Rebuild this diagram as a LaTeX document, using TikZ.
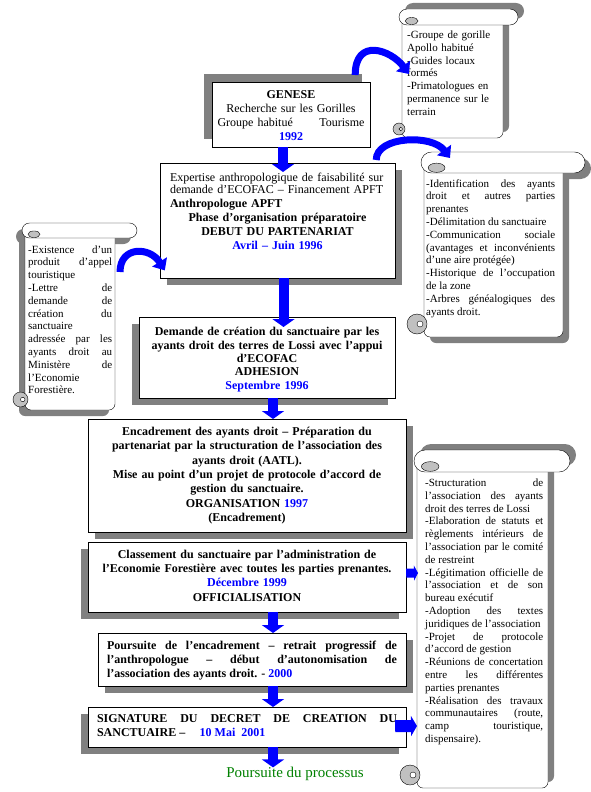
\documentclass[tikz,border=0pt]{standalone}
\usepackage{fontspec}
\setmainfont{Liberation Serif}
\usetikzlibrary{arrows.meta,shadows}
\definecolor{ombregris}{RGB}{128,128,128}
\definecolor{volute}{RGB}{192,192,192}
\definecolor{bleu}{RGB}{0,0,255}
\definecolor{vert}{RGB}{0,128,0}

% parchemin : gauche, haut, droite, bout du rouleau, bas, ombre x, ombre y, volute, hauteur du rouleau
\newcommand{\parchemin}[9]{%
  \begin{scope}[shift={(#6,#7)},fill=ombregris]
    \fill[rounded corners=#9*0.5pt] (#1-3,#2) rectangle (#4,#2+#9);
    \fill[rounded corners=6pt] (#1,#2+#9*0.5) rectangle (#3,#5);
  \end{scope}
  \filldraw[fill=white,rounded corners=6pt] (#1,#2+#9*0.5) rectangle (#3,#5);
  \filldraw[fill=white,rounded corners=#9*0.5pt] (#1-3,#2) rectangle (#4,#2+#9);
  \filldraw[fill=volute] (#1+0.6*#9,#2+0.75*#9) ellipse ({0.4*#9} and {0.22*#9});
  \filldraw[fill=volute] (#1-#8+3,#5-#8-3) circle (#8);
  \filldraw[fill=white] (#1-0.7*#8+3,#5-#8-3) circle ({0.3*#8});
}

\begin{document}
\begin{tikzpicture}[x=1pt,y=-1pt,
  etape/.style={rectangle,draw=black,fill=white,anchor=north,inner ysep=0pt,font=\fontsize{12}{14}\selectfont},
  ombreBD/.style={drop shadow={shadow xshift=7pt,shadow yshift=-7pt,fill=ombregris,opacity=1}},
  ombreBG/.style={drop shadow={shadow xshift=-7pt,shadow yshift=-7pt,fill=ombregris,opacity=1}},
  ombreHG/.style={drop shadow={shadow xshift=-8pt,shadow yshift=8pt,fill=ombregris,opacity=1}},
  liste/.style={inner sep=0pt,anchor=base west,align=justify,font=\fontsize{11}{12.8}\selectfont},
  fleche/.style={draw=bleu,line width=10pt,-{Triangle[width=22pt,length=8pt]}},
  courbe/.style={draw=bleu,line width=7pt,-{Triangle[width=17pt,length=10pt]}},
  lateral/.style={draw=bleu,line width=10pt,-{Triangle[width=20pt,length=6pt]}}]
  \useasboundingbox (0,0) rectangle (591,792);

  % parchemins
  \parchemin{402}{9}{503}{518}{138}{6}{-6}{6}{16}
  \parchemin{424}{152}{563}{585}{337}{6}{6}{10}{21}
  \parchemin{25}{223}{115}{137}{410}{-6}{6}{7.5}{15}
  \parchemin{417}{450}{548}{570}{788}{6}{-6}{10}{22}

  \node[liste,align=left,text width=92pt] (gorilles) at (407,38.5) {-Groupe de gorille\\ Apollo habitué\\ -Guides locaux\\ formés\\ -Primatologues en\\ permanence sur le\\ terrain};
  \node[liste,text width=129pt] (identification) at (426,187) {-Identification des ayants\linebreak droit et autres parties\linebreak prenantes\\ -Délimitation du sanctuaire\\ -Communication sociale\linebreak (avantages et inconvénients\linebreak d’une aire protégée)\\ -Historique de l’occupation\linebreak de la zone\\ -Arbres généalogiques des\linebreak ayants droit.};
  \node[liste,text width=84pt] (existence) at (28,253) {-Existence d’un\linebreak produit d’appel\linebreak touristique\\ -Lettre de\linebreak demande de\linebreak création du\linebreak sanctuaire\\ adressée par les\linebreak ayants droit au\linebreak Ministère de\linebreak l’Economie\\ Forestière.};
  \node[liste,text width=118pt] (structuration) at (425,486.5) {-Structuration de\linebreak l’association des ayants\linebreak droit des terres de Lossi\\ -Elaboration de statuts et\linebreak règlements intérieurs de\linebreak l’association par le comité\linebreak de restreint\\ -Légitimation officielle de\linebreak l’association et de son\linebreak bureau exécutif\\ -Adoption des textes\linebreak juridiques de l’association\\ -Projet de protocole\linebreak d’accord de gestion\\ -Réunions de concertation\linebreak entre les différentes\linebreak parties prenantes\\ -Réalisation des travaux\linebreak communautaires (route,\linebreak camp touristique,\linebreak dispensaire).};

  % etapes
  \node[etape,ombreHG,align=center,inner xsep=4pt,text width=150pt,text height=16.3pt,text depth=48.7pt] (genese) at (291,82) {\textbf{GENESE}\\ Recherche sur les Gorilles\\ Groupe habitué\hspace{2.2em}Tourisme\\ \textbf{\textcolor{bleu}{1992}}};
  \node[etape,ombreBD,inner xsep=10pt,text width=215pt,text height=18pt,text depth=97pt] (expertise) at (277.5,163) {{\fontsize{12}{12.7}\selectfont Expertise anthropologique de faisabilité sur\\ demande d’ECOFAC – Financement APFT\par}\textbf{Anthropologue APFT}\par{\centering\bfseries Phase d’organisation préparatoire\\ DEBUT DU PARTENARIAT\\ \textcolor{bleu}{Avril – Juin 1996}\par}};
  \node[etape,ombreBG,align=center,font=\fontsize{12}{13.4}\selectfont\bfseries,inner xsep=8pt,text width=240pt,text height=18.5pt,text depth=62.5pt] (demande) at (267,317) {Demande de création du sanctuaire par les\\ ayants droit des terres de Lossi avec l’appui\\ d’ECOFAC\\ ADHESION\\ \textcolor{bleu}{Septembre 1996}};
  \node[etape,ombreBD,align=center,font=\fontsize{12}{14.4}\selectfont\bfseries,inner xsep=9pt,text width=300pt,text height=16pt,text depth=97pt] (encadrement) at (247,419) {Encadrement des ayants droit – Préparation du\\ partenariat par la structuration de l’association des\\ ayants droit (AATL).\\ Mise au point d’un projet de protocole d’accord de\\ gestion du sanctuaire.\\ ORGANISATION \textcolor{bleu}{1997}\\ (Encadrement)};
  \node[etape,ombreBG,align=center,font=\fontsize{12}{14.2}\selectfont\bfseries,inner xsep=7pt,text width=304pt,text height=16.3pt,text depth=53.7pt] (classement) at (247,542) {Classement du sanctuaire par l’administration de\\ l’Economie Forestière avec toutes les parties prenantes.\\ \textcolor{bleu}{Décembre 1999}\\ OFFICIALISATION};
  \node[etape,ombreBD,align=justify,font=\fontsize{12}{13.7}\selectfont\bfseries,inner xsep=9pt,text width=290pt,text height=16.5pt,text depth=36.5pt] (poursuite) at (252,633) {Poursuite de l’encadrement – retrait progressif de\linebreak l’anthropologue – début d’autonomisation de\linebreak l’association des ayants droit. - \textcolor{bleu}{2000}};
  \node[etape,ombreBG,align=justify,font=\fontsize{12}{14.5}\selectfont\bfseries,inner xsep=9pt,text width=300pt,text height=15pt,text depth=25pt] (signature) at (247,707) {SIGNATURE DU DECRET DE CREATION DU\linebreak SANCTUAIRE –\hspace{1.2em}\textcolor{bleu}{10 Mai\ \ 2001}};
  \node[inner sep=0pt,anchor=base,text=vert,font=\fontsize{15}{18}\selectfont] (suite) at (295,777) {Poursuite du processus};

  % fleches
  \draw[fleche,shorten >=-9pt] ([xshift=-8pt]genese.south) -- ([xshift=-8pt]genese.south |- expertise.north);
  \draw[fleche,shorten >=-10pt] ([xshift=6pt]expertise.south) -- ([xshift=6pt]expertise.south |- demande.north);
  \draw[fleche] ([xshift=6pt]demande.south) -- ([xshift=6pt]demande.south |- encadrement.north);
  \draw[fleche] ([xshift=26pt]classement.south) -- ([xshift=26pt]classement.south |- poursuite.north);
  \draw[fleche] ([xshift=21pt]poursuite.south) -- ([xshift=21pt]poursuite.south |- signature.north);
  \draw[fleche,shorten >=-1pt] ([xshift=26pt]signature.south) -- ([xshift=26pt]signature.south |- suite.north);

  \coordinate (versgorilles) at (409,74);
  \coordinate (versidentification) at (450,158);
  \coordinate (departexistence) at (120,272);
  \coordinate (versstructuration1) at (418,573);
  \coordinate (versstructuration2) at (417,726);
  \draw[courbe] ([xshift=-15pt,yshift=7pt]genese.north east) .. controls +(0,-38) and +(-18,-24) .. (versgorilles);
  \draw[courbe] ([xshift=-19pt,yshift=3pt]expertise.north east) .. controls +(0,-24) and +(-18,-24) .. (versidentification);
  \draw[courbe] (departexistence) .. controls +(0,-26) and +(-15,-24) .. ([xshift=5pt,yshift=8pt]expertise.south west);
  \draw[lateral,line width=9pt,-{Triangle[width=15pt,length=4pt]}] ([yshift=4pt]classement.east) -- (versstructuration1);
  \draw[lateral,line width=12pt] ([xshift=-11pt,yshift=1pt]signature.east) -- (versstructuration2);
\end{tikzpicture}
\end{document}
